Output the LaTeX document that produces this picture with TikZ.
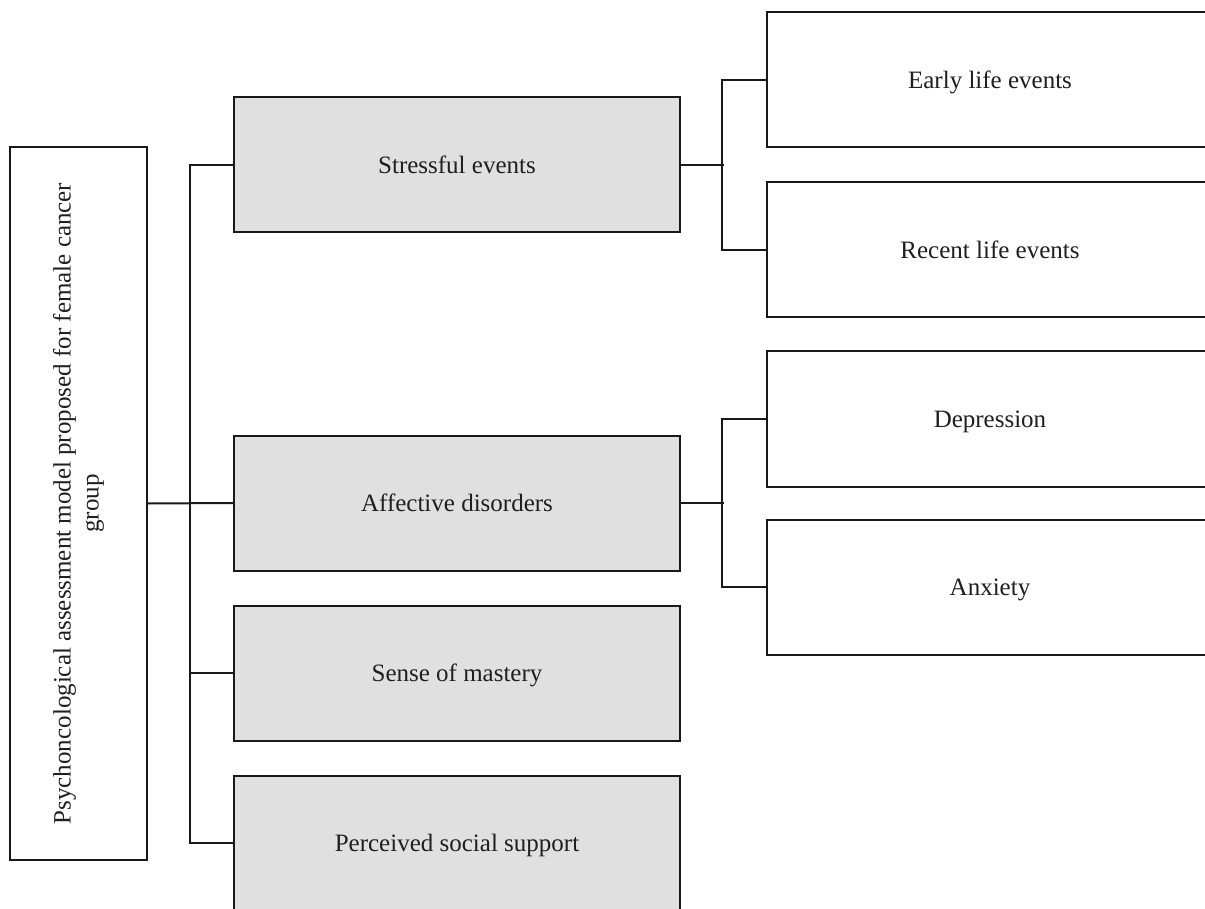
\documentclass[tikz,border=0pt]{standalone}
\usepackage{fontspec}
\setmainfont{Liberation Serif}
\begin{document}
\begin{tikzpicture}[x=1pt,y=-1pt,
  box/.style={draw=black!90, line width=2pt, rectangle, inner sep=0pt,
    minimum width=446pt, minimum height=135pt, text=black!88,
    text height=17pt, text depth=0pt,
    font=\fontsize{25}{29}\selectfont},
  gbox/.style={box, fill=black!12},
  wbox/.style={box, fill=white},
  link/.style={draw=black!90, line width=2pt}]
\useasboundingbox (0,0) rectangle (1205,909);
\fill[white] (0,0) rectangle (1205,909);
\clip (0,0) rectangle (1205,909);
% root
\node[draw=black!90, line width=2pt, rectangle, inner sep=0pt, fill=white,
  minimum width=713pt, minimum height=137pt, rotate=90, align=center,
  text=black!88, font=\fontsize{25}{28}\selectfont] (root) at (78.5,503.5)
  {Psychoncological assessment model proposed for female cancer\\group};
% middle
\node[gbox] (stress) at (457,165) {Stressful events};
\node[gbox] (affect) at (457,503) {Affective disorders};
\node[gbox] (mastery) at (457,673) {Sense of mastery};
\node[gbox] (support) at (457,843) {Perceived social support};
% right
\node[wbox] (early) at (990,80) {Early life events};
\node[wbox] (recent) at (990,250) {Recent life events};
\node[wbox] (depr) at (990,419) {Depression};
\node[wbox] (anx) at (990,587) {Anxiety};
% connectors
\draw[link] (root.south) -- (affect.west);
\draw[link] (stress.west) -- ++(-43,0) |- (support.west);
\draw[link] (mastery.west) -- ++(-43,0);
\draw[link] (stress.east) -- ++(43,0);
\draw[link] (early.west) -- ++(-44,0) |- (recent.west);
\draw[link] (affect.east) -- ++(43,0);
\draw[link] (depr.west) -- ++(-44,0) |- (anx.west);
\end{tikzpicture}
\end{document}
